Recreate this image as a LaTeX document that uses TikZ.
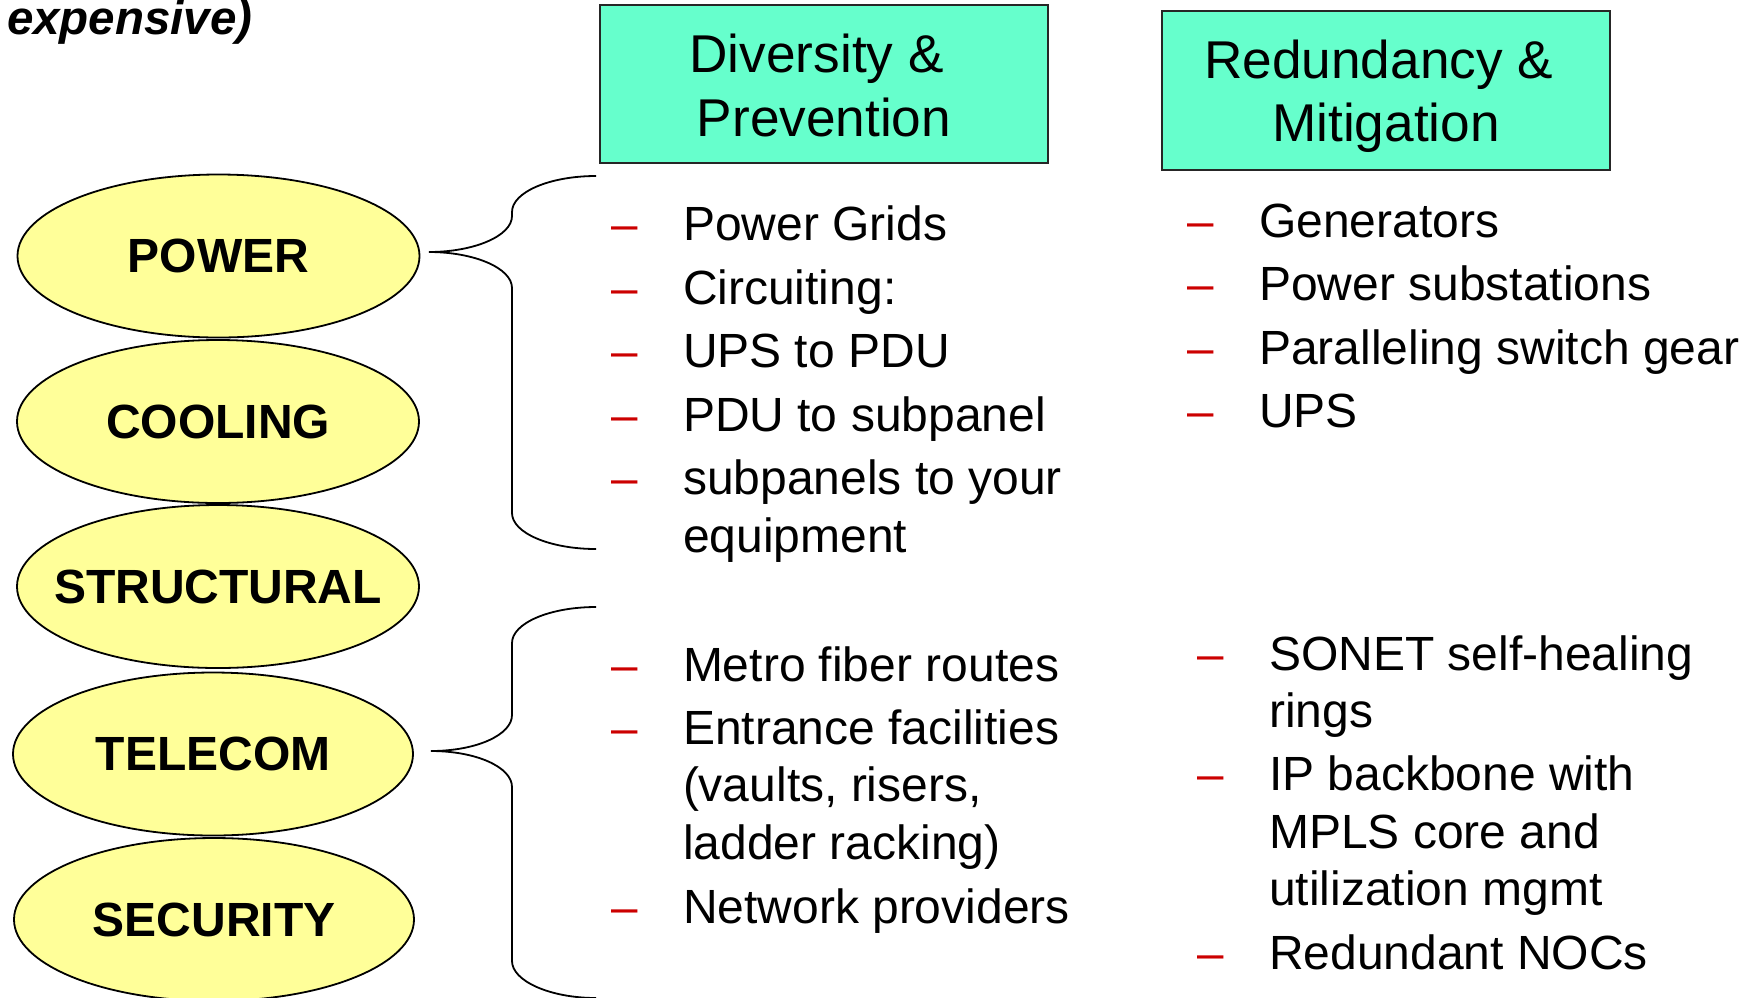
\documentclass[tikz,border=0pt]{standalone}
\usepackage{fontspec}
\setmainfont{Liberation Sans}
\usetikzlibrary{shapes.geometric}
\definecolor{boxfill}{HTML}{66FFCC}
\definecolor{ellfill}{HTML}{FFFF99}
\definecolor{dashred}{HTML}{CC0000}
\begin{document}
\begin{tikzpicture}[x=0.5pt,y=-0.5pt,
  every node/.style={inner sep=0pt, outer sep=0pt},
  hazard/.style={ellipse, draw=black, line width=0.9pt, fill=ellfill,
    minimum width=201pt, minimum height=81.5pt,
    font=\fontsize{24}{28}\selectfont\bfseries},
  hdrbox/.style={draw=black!85, line width=1pt, fill=boxfill,
    minimum width=224pt, minimum height=79pt},
  hdrtext/.style={anchor=base, font=\fontsize{26.6}{32}\selectfont},
  item/.style={anchor=base west, font=\fontsize{24}{28.75}\selectfont},
  bul/.style={anchor=base west, text=dashred, font=\fontsize{23.75}{28.75}\selectfont},
  brace/.style={draw=black, line width=0.9pt}
]
\useasboundingbox (0,0) rectangle (1754,997);

% top-left fragment
\node[anchor=base west, font=\fontsize{23.75}{28}\selectfont\bfseries\itshape] (exp) at (7,34.3) {expensive)};

% header boxes
\node[hdrbox] (div) at (824,84) {};
\node[hdrtext] (divA) at (824,72) {Diversity \&\hspace*{0.278em}};
\node[hdrtext] (divB) at (824,136) {Prevention};
\node[hdrbox, minimum height=79.5pt] (red) at (1386,90.5) {};
\node[hdrtext] (redA) at (1386,78) {Redundancy \&\hspace*{0.278em}};
\node[hdrtext] (redB) at (1386,141.7) {Mitigation};

% hazard ellipses
\node[hazard] (power) at (218.5,256) {\makebox[0pt]{POWER}};
\node[hazard] (cooling) at (218,421.5) {\makebox[0pt]{COOLING}};
\node[hazard] (structural) at (218,586.5) {\makebox[0pt]{STRUCTURAL}};
\node[hazard, minimum width=200pt] (telecom) at (213,754) {\makebox[0pt]{TELECOM}};
\node[hazard, minimum width=200pt] (security) at (214,919.5) {\makebox[0pt]{SECURITY}};

% braces
\coordinate (b1top) at (596,176);
\coordinate (b1tip) at (429,252);
\coordinate (b1bot) at (596,549);
\coordinate (b2top) at (596,607);
\coordinate (b2tip) at (431,751);
\coordinate (b2bot) at (596,998);
\draw[brace] (b1top) .. controls (550,176) and (512,192) .. (512,212) -- (512,216)
  .. controls (512,236) and (474,252) .. (b1tip)
  .. controls (474,252) and (512,268) .. (512,288) -- (512,513)
  .. controls (512,533) and (550,549) .. (b1bot);
\draw[brace] (b2top) .. controls (550,607) and (512,623) .. (512,643) -- (512,715)
  .. controls (512,735) and (476,751) .. (b2tip)
  .. controls (476,751) and (512,767) .. (512,787) -- (512,961)
  .. controls (512,981) and (550,998) .. (b2bot);

% column 1, power
\node[bul] (d1) at (611,240.7) {–};
\node[item] (t1) at (683,240.7) {Power Grids};
\node[bul] (d2) at (611,304.2) {–};
\node[item] (t2) at (683,304.2) {Circuiting:};
\node[bul] (d3) at (611,367.7) {–};
\node[item] (t3) at (683,367.7) {UPS to PDU};
\node[bul] (d4) at (611,431.2) {–};
\node[item] (t4) at (683,431.2) {PDU to subpanel};
\node[bul] (d5) at (611,494.7) {–};
\node[item] (t5) at (683,494.7) {subpanels to your};
\node[item] (t5b) at (683,552.2) {equipment};

% column 1, telecom
\node[bul] (e1) at (611,681.7) {–};
\node[item] (u1) at (683,681.7) {Metro fiber routes};
\node[bul] (e2) at (611,744.3) {–};
\node[item] (u2) at (683,744.3) {Entrance facilities};
\node[item] (u2b) at (683,801.7) {(vaults, risers,};
\node[item] (u2c) at (683,859.3) {ladder racking)};
\node[bul] (e3) at (611,923.3) {–};
\node[item] (u3) at (683,923.3) {Network providers};

% column 2, power
\node[bul] (f1) at (1187,237) {–};
\node[item] (v1) at (1259,237) {Generators};
\node[bul] (f2) at (1187,300.7) {–};
\node[item] (v2) at (1259,300.7) {Power substations};
\node[bul] (f3) at (1187,364) {–};
\node[item] (v3) at (1259,364) {Paralleling switch gear};
\node[bul] (f4) at (1187,427.3) {–};
\node[item] (v4) at (1259,427.3) {UPS};

% column 2, telecom
\node[bul] (g1) at (1197,670) {–};
\node[item] (w1) at (1269,670) {SONET self-healing};
\node[item] (w1b) at (1269,727) {rings};
\node[bul] (g2) at (1197,790.7) {–};
\node[item] (w2) at (1269,790.7) {IP backbone with};
\node[item] (w2b) at (1269,848.3) {MPLS core and};
\node[item] (w2c) at (1269,905) {utilization mgmt};
\node[bul] (g3) at (1197,969.3) {–};
\node[item] (w3) at (1269,969.3) {Redundant NOCs};
\end{tikzpicture}
\end{document}
